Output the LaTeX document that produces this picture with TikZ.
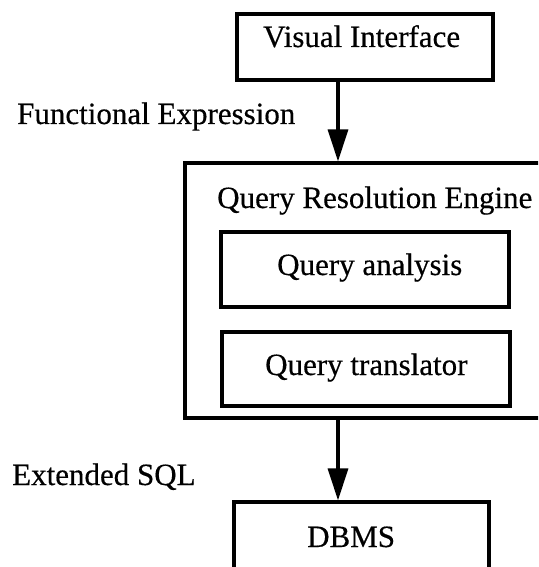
\documentclass[tikz,border=0pt]{standalone}
\usepackage{fontspec}
\setmainfont{Liberation Serif}[FakeBold=0.4]
\usetikzlibrary{arrows.meta}
\begin{document}
\begin{tikzpicture}[x=1pt,y=-1pt,
  box/.style={draw=black, line width=3.2pt, rectangle, inner sep=0pt},
  lbl/.style={inner sep=0pt, anchor=base west, font=\fontsize{31}{37}\selectfont},
  flow/.style={line width=3.2pt, -{Triangle[length=32pt,width=20pt]}}]
  \useasboundingbox (0,0) rectangle (538,567);
  \clip (0,0) rectangle (538,567);
  \fill[white] (0,0) rectangle (538,567);

  % boxes
  \node[box, minimum width=256pt, minimum height=66pt] (vi) at (365,47) {};
  \node[box, minimum width=360pt, minimum height=255pt] (qre) at (365,290.5) {};
  \node[box, minimum width=288pt, minimum height=75pt] (qa) at (365,269.5) {};
  \node[box, minimum width=288pt, minimum height=74pt] (qt) at (366,369) {};
  \node[box, minimum width=255pt, minimum height=73pt] (dbms) at (361.5,538.5) {};

  % texts
  \node[lbl] (tvi) at (263,47) {Visual Interface};
  \node[lbl] (tfe) at (17,124) {Functional Expression};
  \node[lbl] (tqre) at (217,208) {Query Resolution Engine};
  \node[lbl] (tqa) at (277,275) {Query analysis};
  \node[lbl] (tqt) at (265,375) {Query translator};
  \node[lbl] (tsql) at (12,485) {Extended SQL};
  \node[lbl] (tdb) at (307,547) {DBMS};

  % connectors
  \coordinate (axis) at (338,0);
  \draw[flow] (vi.south -| axis) -- (qre.north -| axis);
  \draw[flow] (qre.south -| axis) -- (dbms.north -| axis);
\end{tikzpicture}
\end{document}
